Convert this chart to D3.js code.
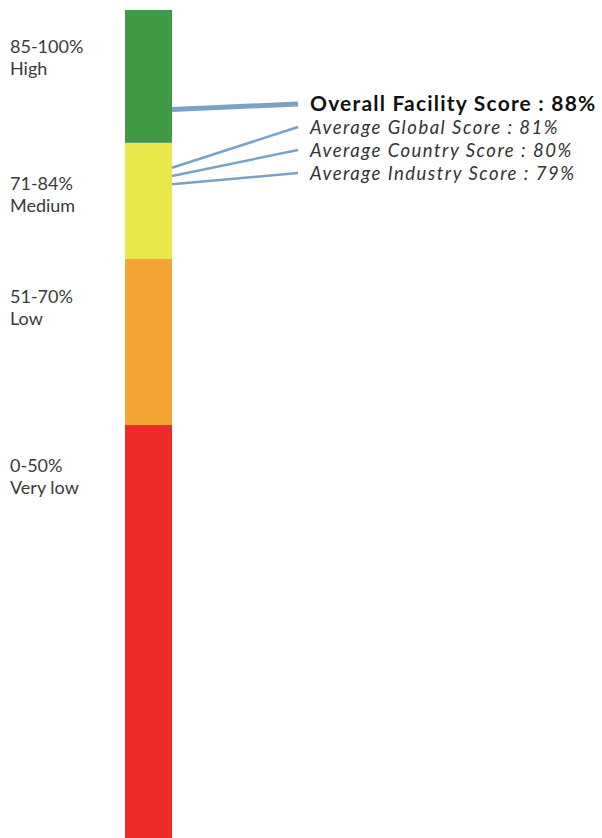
<!DOCTYPE html>
<html>
<head>
<meta charset="utf-8">
<script src="https://cdn.jsdelivr.net/npm/d3@7"></script>
<style>
  body { margin: 0; background: #fff; }
  svg { display: block; }
</style>
</head>
<body>
<svg></svg>
<script>
let width = 602, height = 838;

let svg = d3.select("svg")
    .attr("width", width)
    .attr("height", height);

// score bands (low -> high)
let bandRange = ["0-50%", "51-70%", "71-84%", "85-100%"];
let bandName = ["Very low", "Low", "Medium", "High"];
let bandFrom = [0, 50, 70, 84];
let bandTo = [50, 70, 84, 100];
let bandColor = ["#ee2a2a", "#f5a533", "#e8e84a", "#3f9945"];

// scores pointing into the bar
let scoreLabels = ["Overall Facility Score", "Average Global Score", "Average Country Score", "Average Industry Score"];
let scoreValues = [88, 81, 80, 79];

// the bar runs off the bottom of the picture a little
let y = d3.scaleLinear().domain([0, 100]).range([840, 10]);
let barX = 125, barW = 47;

svg.append("g")
    .selectAll("rect")
    .data(bandFrom)
    .enter()
    .append("rect")
    .attr("x", barX)
    .attr("width", barW)
    .attr("y", (d, i) => y(bandTo[i]))
    .attr("height", (d, i) => y(d) - y(bandTo[i]))
    .attr("fill", (d, i) => bandColor[i]);

// band labels on the left, near the top of each band
let labelFont = "Lato, 'Open Sans', sans-serif";
let bandLabelY = [472, 303, 190, 53];
let left = svg.append("g").attr("font-family", labelFont).attr("font-size", 18).attr("fill", "#3a3a3a");
bandRange.forEach((r, i) => {
    left.append("text").attr("x", 10).attr("y", bandLabelY[i]).text(r);
    left.append("text").attr("x", 10).attr("y", bandLabelY[i] + 22).text(bandName[i]);
});

// leader lines and score texts
let textX = 310, lineEnd = 298;
let rowY = d3.scalePoint().domain(scoreLabels).range([104, 173]);

svg.append("g")
    .selectAll("line")
    .data(scoreValues)
    .enter()
    .append("line")
    .attr("x1", barX + barW)
    .attr("y1", d => y(d))
    .attr("x2", lineEnd)
    .attr("y2", (d, i) => rowY(scoreLabels[i]))
    .attr("stroke", "#7aa2c4")
    .attr("stroke-width", (d, i) => i == 0 ? 5 : 2.5);

svg.append("g")
    .selectAll("text")
    .data(scoreValues)
    .enter()
    .append("text")
    .attr("x", textX)
    .attr("y", (d, i) => rowY(scoreLabels[i]) + 7)
    .attr("font-family", labelFont)
    .attr("font-size", (d, i) => i == 0 ? 21 : 18.5)
    .attr("letter-spacing", (d, i) => i == 0 ? 1.2 : 1.5)
    .attr("font-weight", (d, i) => i == 0 ? "bold" : "normal")
    .attr("font-style", (d, i) => i == 0 ? "normal" : "italic")
    .attr("fill", (d, i) => i == 0 ? "#111" : "#333")
    .text((d, i) => scoreLabels[i] + " : " + d + "%");
</script>
</body>
</html>
